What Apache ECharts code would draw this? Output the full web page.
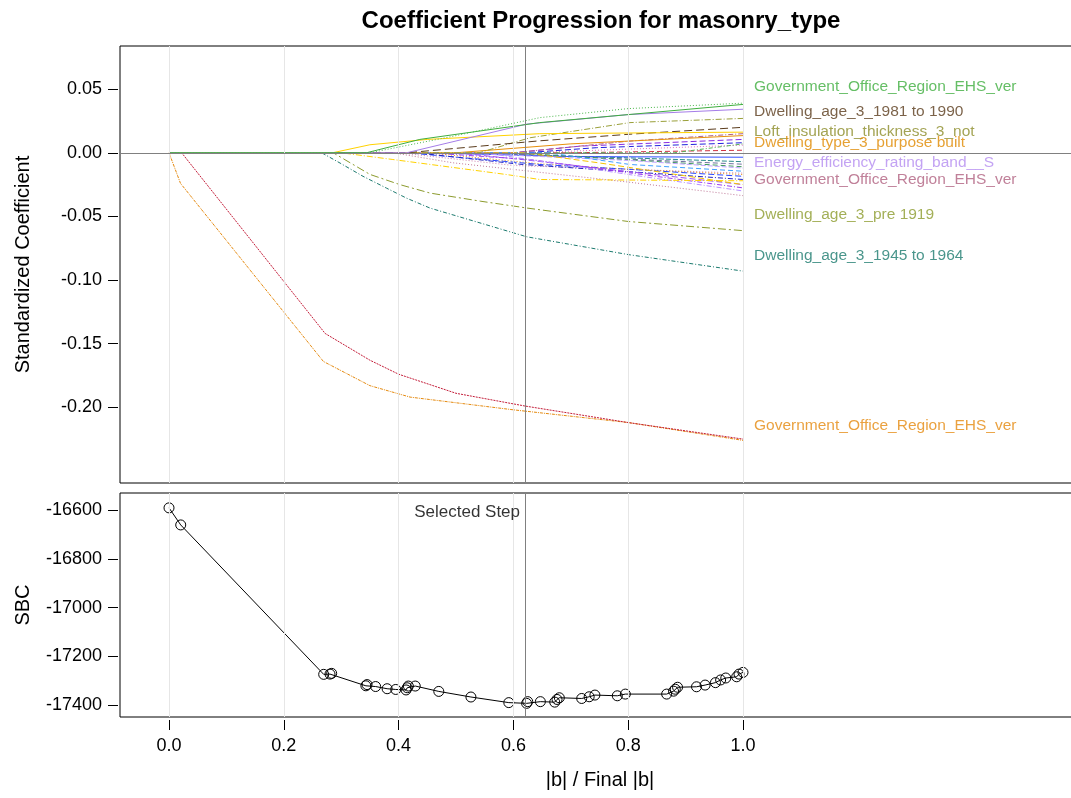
<!DOCTYPE html>
<html><head><meta charset="utf-8">
<script src="https://cdn.jsdelivr.net/npm/echarts@6/dist/echarts.min.js"></script>
<style>html,body{margin:0;padding:0;background:#fff}#c{width:1071px;height:798px}</style>
</head><body><div id="c"></div>
<script>
// ---------- data ----------
const xTicks = [0, 0.2, 0.4, 0.6, 0.8, 1.0];
const coefTicks = [-0.2, -0.15, -0.1, -0.05, 0, 0.05];
const sbcTicks = [-17400, -17200, -17000, -16800, -16600];
const selectedStep = 0.622;

const sbcX = [0, 0.0204, 0.2695, 0.2805, 0.2834, 0.343, 0.345, 0.360, 0.380, 0.395, 0.413, 0.415, 0.417, 0.429, 0.470, 0.526, 0.592, 0.623, 0.625, 0.647, 0.672, 0.676, 0.680, 0.719, 0.732, 0.742, 0.781, 0.795, 0.867, 0.879, 0.882, 0.886, 0.919, 0.934, 0.952, 0.961, 0.970, 0.989, 0.993, 1.0];
const sbcY = [-16591, -16661, -17274, -17273, -17270, -17321, -17316, -17324, -17333, -17336, -17338, -17329, -17322, -17322, -17344, -17367, -17390, -17393, -17386, -17386, -17388, -17377, -17370, -17373, -17366, -17359, -17362, -17355, -17355, -17343, -17335, -17327, -17325, -17318, -17308, -17297, -17289, -17284, -17273, -17266];

const gorOrange = [[0,0],[0.02,-0.024],[0.269,-0.164],[0.35,-0.183],[0.42,-0.192],[0.6,-0.202],[0.8,-0.212],[1.0,-0.226]];
const regionRed = [[0,0],[0.022,0],[0.272,-0.142],[0.35,-0.163],[0.4,-0.174],[0.5,-0.189],[0.62,-0.199],[0.8,-0.212],[1.0,-0.225]];
const age1945 = [[0,0],[0.266,0],[0.298,-0.0081],[0.338,-0.0185],[0.379,-0.0278],[0.414,-0.0357],[0.455,-0.0435],[0.623,-0.066],[0.8,-0.080],[1.0,-0.093]];
const agePre1919 = [[0,0],[0.286,0],[0.35,-0.017],[0.402,-0.025],[0.455,-0.0317],[0.542,-0.038],[0.623,-0.0434],[0.8,-0.054],[1.0,-0.0612]];
const gorGreenDot = [[0,0],[0.35,0],[0.495,0.013],[0.646,0.0276],[0.8,0.0347],[1.0,0.039]];
const gorGreen = [[0,0],[0.344,0],[0.437,0.0105],[0.646,0.0237],[0.8,0.030],[1.0,0.038]];
const eerPurple = [[0,0],[0.414,0],[0.623,0.0225],[0.8,0.030],[1.0,0.0342]];
const yellowUp = [[0,0],[0.285,0],[0.35,0.0063],[0.45,0.0105],[0.646,0.015],[1.0,0.0162]];
const age1981 = [[0,0],[0.414,0],[0.646,0.0094],[0.8,0.0145],[1.0,0.020]];
const loftNot = [[0,0],[0.54,0],[0.629,0.0118],[0.803,0.0237],[1.0,0.027]];
const typePurpose = [[0,0],[0.5,0],[0.7,0.007],[1.0,0.0135]];
const mauveUp = [[0,0],[0.6,0],[0.803,0.0092],[1.0,0.015]];
const purpleUp = [[0,0],[0.6,0],[0.716,0.0052],[1.0,0.0105]];
const blueUp = [[0,0],[0.62,0],[0.745,0.004],[1.0,0.0079]];
const greenLate = [[0,0],[0.88,0],[1.0,0.007]];
const pinkUp = [[0,0],[0.62,0],[1.0,0.006]];
const redNear = [[0,0],[0.7,0],[1.0,0.002]];
const yellowDown = [[0,0],[0.3,0],[0.39,-0.0053],[0.588,-0.0171],[0.646,-0.021],[1.0,-0.022]];
const yellowDash = [[0,0],[0.62,0],[0.75,-0.008],[1.0,-0.025]];
const mauveDown = [[0,0],[0.39,0],[0.495,-0.0079],[0.629,-0.0145],[0.803,-0.0232],[1.0,-0.0337]];
const purpleDashDot = [[0,0],[0.45,0],[0.629,-0.0053],[0.803,-0.0158],[1.0,-0.0276]];
const purpleDown = [[0,0],[0.5,0],[0.629,-0.006],[1.0,-0.025]];
const lilacDown = [[0,0],[0.55,0],[0.8,-0.017],[1.0,-0.030]];
const blueDash = [[0,0],[0.414,0],[0.646,-0.0092],[0.803,-0.013],[1.0,-0.0185]];
const skyDash = [[0,0],[0.66,0],[0.803,-0.0092],[1.0,-0.0145]];
const orangeDot = [[0,0],[0.45,0],[0.646,-0.0087],[0.803,-0.013],[1.0,-0.0171]];
const blueDashDot = [[0,0],[0.43,0],[0.611,-0.009],[1.0,-0.021]];
const tealNear = [[0,0],[0.5,0],[0.8,-0.004],[1.0,-0.007]];
const blueSolid = [[0,0],[0.45,0],[0.7,-0.003],[1.0,-0.0035]];
const grayNear = [[0,0],[0.55,0],[1.0,-0.009]];
const greenDown = [[0,0],[0.6,0],[1.0,-0.011]];
const lilacNear = [[0,0],[0.5,0],[0.8,-0.006],[1.0,-0.012]];
const pinkDown = [[0,0],[0.4,0],[0.6,-0.01],[1.0,-0.016]];

const labelNames = ['Government_Office_Region_EHS_ver', 'Dwelling_age_3_1981 to 1990', 'Loft_insulation_thickness_3_not', 'Dwelling_type_3_purpose built', 'Energy_efficiency_rating_band__S', 'Government_Office_Region_EHS_ver', 'Dwelling_age_3_pre 1919', 'Dwelling_age_3_1945 to 1964', 'Government_Office_Region_EHS_ver'];
const labelValues = [0.0516, 0.0326, 0.0168, 0.0081, -0.0077, -0.0210, -0.0486, -0.0810, -0.2144];

// ---------- styles ----------
const FONT = '"Liberation Sans", Arial, Helvetica, sans-serif';
const labelColors = ['#3fae3f', '#5a3b1c', '#8c8c28', '#e08a00', '#b48cf0', '#b0607f', '#8c9b2d', '#1b7a6e', '#e58a0f'];
const paths = [
  ['gorOrange', gorOrange, '#e58a0f', [3,1,1,1]],
  ['regionRed', regionRed, '#c41e3a', [2,1]],
  ['age1945', age1945, '#1b7a6e', [4,2,1,2]],
  ['agePre1919', agePre1919, '#8c9b2d', [8,3,2,3]],
  ['tealNear', tealNear, '#2a8a8a', [5,2]],
  ['blueSolid', blueSolid, '#3050ff', 0],
  ['grayNear', grayNear, '#7070a0', [5,3]],
  ['greenDown', greenDown, '#3a9a5a', [5,3]],
  ['lilacNear', lilacNear, '#c0a0ff', [5,2]],
  ['pinkDown', pinkDown, '#d080b0', [1,2]],
  ['redNear', redNear, '#d03040', [5,3]],
  ['pinkUp', pinkUp, '#e070c0', [1,2]],
  ['greenLate', greenLate, '#56b356', [4,2,1,2]],
  ['blueUp', blueUp, '#2222dd', [6,3]],
  ['purpleUp', purpleUp, '#8a2be2', [6,3]],
  ['mauveUp', mauveUp, '#b0607f', [5,2,1,2]],
  ['typePurpose', typePurpose, '#e8900c', 0],
  ['skyDash', skyDash, '#40a0ff', [5,3]],
  ['orangeDot', orangeDot, '#e8900c', [1,2]],
  ['blueDash', blueDash, '#2845ff', [6,3]],
  ['blueDashDot', blueDashDot, '#2424c0', [5,2,1,2]],
  ['purpleDown', purpleDown, '#a050f0', [6,3]],
  ['purpleDashDot', purpleDashDot, '#9b3cf0', [5,2,1,2]],
  ['lilacDown', lilacDown, '#b890ff', [5,2,1,2]],
  ['mauveDown', mauveDown, '#c07898', [1,2]],
  ['yellowDash', yellowDash, '#f5c400', [6,3]],
  ['yellowDown', yellowDown, '#ffd200', [6,2,1,2]],
  ['loftNot', loftNot, '#9aa03a', [6,2,1,2]],
  ['age1981', age1981, '#5a3b1c', [8,4]],
  ['yellowUp', yellowUp, '#ffd200', 0],
  ['eerPurple', eerPurple, '#a57de8', 0],
  ['gorGreen', gorGreen, '#3fae3f', 0],
  ['gorGreenDot', gorGreenDot, '#4cb84c', [1,2]]
];

// axis geometry
const xMin = -0.08537, xMax = 1.5871;
const cMin = -0.2595, cMax = 0.0839;
const sMin = -17449, sMax = -16530;

const chart = echarts.init(document.getElementById('c'), null, {renderer: 'canvas'});

const gridLine = {color: '#e6e6e6', width: 1, type: 'solid'};
const refLine = {color: '#808080', width: 1, type: 'solid'};

const series = [];
series.push({
  type: 'line', xAxisIndex: 0, yAxisIndex: 0, data: [], silent: true, z: 1,
  markLine: {silent: true, symbol: 'none', label: {show: false}, animation: false,
    data: xTicks.map(v => ({xAxis: v, lineStyle: gridLine}))
      .concat([{yAxis: 0, lineStyle: refLine}, {xAxis: selectedStep, lineStyle: refLine}])}
});
series.push({
  type: 'line', xAxisIndex: 1, yAxisIndex: 1, data: [], silent: true, z: 1,
  markLine: {silent: true, symbol: 'none', label: {show: false}, animation: false,
    data: xTicks.map(v => ({xAxis: v, lineStyle: gridLine}))
      .concat([{xAxis: selectedStep, lineStyle: refLine}])}
});
paths.forEach(([name, data, color, dash]) => {
  series.push({
    name, type: 'line', xAxisIndex: 0, yAxisIndex: 0, data, z: 3,
    showSymbol: false, symbol: 'none', animation: false, silent: true,
    lineStyle: {color, width: 1, type: dash === 0 ? 'solid' : dash}
  });
});
series.push({
  type: 'scatter', xAxisIndex: 0, yAxisIndex: 0, symbolSize: 0, z: 5, silent: true,
  animation: false,
  data: labelNames.map((n, i) => ({name: n, value: [1.0, labelValues[i]],
    label: {show: true, position: 'right', distance: 11, formatter: n, color: labelColors[i],
      fontFamily: FONT, fontSize: 15.5}}))
});
series.push({
  type: 'line', xAxisIndex: 1, yAxisIndex: 1, z: 4, animation: false, silent: true,
  data: sbcX.map((x, i) => [x, sbcY[i]]),
  symbol: 'circle', symbolSize: 10, showAllSymbol: true,
  lineStyle: {color: '#000', width: 1},
  itemStyle: {color: 'rgba(0,0,0,0)', borderColor: '#000', borderWidth: 1}
});
series.push({
  type: 'scatter', xAxisIndex: 1, yAxisIndex: 1, symbolSize: 0, z: 5, silent: true, animation: false,
  data: [{value: [selectedStep, -16608], label: {show: true, position: 'left', distance: 6,
    formatter: 'Selected Step', color: '#000', fontFamily: FONT, fontSize: 17}}]
});

chart.setOption({
  animation: false,
  backgroundColor: '#fff',
  title: {text: 'Coefficient Progression for masonry_type', left: 596, top: 4, textAlign: 'center',
    textStyle: {fontFamily: FONT, fontSize: 24, fontWeight: 'bold', color: '#000'}},
  grid: [
    {left: 120, top: 46, width: 960, height: 437, show: true, borderColor: '#000', borderWidth: 1,
      backgroundColor: 'transparent', outerBoundsMode: 'none', containLabel: false},
    {left: 120, top: 493, width: 960, height: 224, show: true, borderColor: '#000', borderWidth: 1,
      backgroundColor: 'transparent', outerBoundsMode: 'none', containLabel: false}
  ],
  xAxis: [
    {type: 'value', gridIndex: 0, min: xMin, max: xMax, axisLine: {show: false, onZero: false}, axisTick: {show: false},
      axisLabel: {show: false}, splitLine: {show: false}},
    {type: 'value', gridIndex: 1, min: xMin, max: xMax, offset: 3,
      axisLine: {show: false, onZero: false},
      axisTick: {show: true, length: 10, customValues: xTicks, lineStyle: {color: '#000'}},
      axisLabel: {show: true, customValues: xTicks, margin: 17, formatter: v => v.toFixed(1),
        fontFamily: FONT, fontSize: 18, color: '#000'},
      splitLine: {show: false},
      name: '|b| / Final |b|', nameLocation: 'middle', nameGap: 50,
      nameTextStyle: {fontFamily: FONT, fontSize: 20, color: '#000'}}
  ],
  yAxis: [
    {type: 'value', gridIndex: 0, min: cMin, max: cMax, offset: 2,
      axisLine: {show: false, onZero: false},
      axisTick: {show: true, length: 10, customValues: coefTicks, lineStyle: {color: '#000'}},
      axisLabel: {show: true, customValues: coefTicks, margin: 16, formatter: v => v.toFixed(2),
        fontFamily: FONT, fontSize: 18, color: '#000'},
      splitLine: {show: false},
      name: 'Standardized Coefficient', nameLocation: 'middle', nameGap: 85, nameRotate: 90,
      nameTextStyle: {fontFamily: FONT, fontSize: 20, color: '#000'}},
    {type: 'value', gridIndex: 1, min: sMin, max: sMax, offset: 2,
      axisLine: {show: false, onZero: false},
      axisTick: {show: true, length: 10, customValues: sbcTicks, lineStyle: {color: '#000'}},
      axisLabel: {show: true, customValues: sbcTicks, margin: 16, formatter: v => String(Math.round(v)),
        fontFamily: FONT, fontSize: 18, color: '#000'},
      splitLine: {show: false},
      name: 'SBC', nameLocation: 'middle', nameGap: 85, nameRotate: 90,
      nameTextStyle: {fontFamily: FONT, fontSize: 20, color: '#000'}}
  ],
  series
});
</script></body></html>
